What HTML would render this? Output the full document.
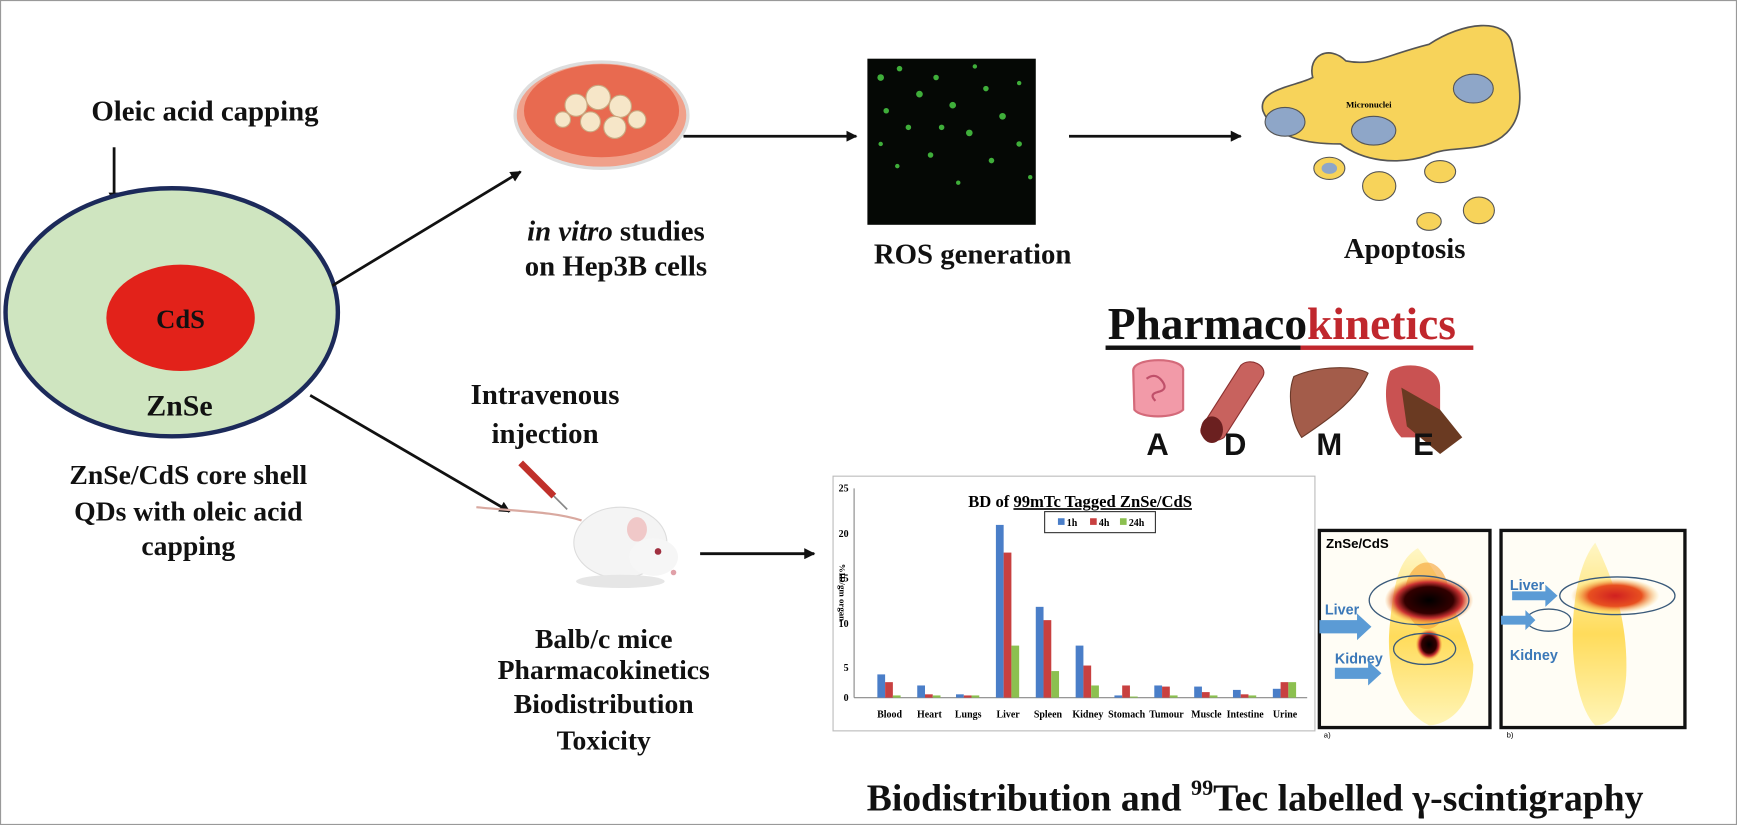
<!DOCTYPE html>
<html><head><meta charset="utf-8"><style>
html,body{margin:0;padding:0;background:#fff}
svg{display:block}
.t{font-family:"Liberation Serif",serif;font-weight:bold;fill:#111}
.s{font-family:"Liberation Sans",sans-serif;font-weight:bold;fill:#111}
</style></head><body>
<svg width="1737" height="825" viewBox="0 0 1568 745" preserveAspectRatio="none" xmlns="http://www.w3.org/2000/svg">
<defs>
<marker id="ah" markerWidth="10" markerHeight="10" refX="9" refY="5" orient="auto" markerUnits="userSpaceOnUse"><path d="M0,0 L10,5 L0,10 z" fill="#111"/></marker>
<radialGradient id="hot1" cx="50%" cy="50%" r="50%"><stop offset="0" stop-color="#000"/><stop offset="0.55" stop-color="#300"/><stop offset="0.75" stop-color="#c33"/><stop offset="1" stop-color="#f5a030" stop-opacity="0"/></radialGradient>
<radialGradient id="hot2" cx="50%" cy="50%" r="50%"><stop offset="0" stop-color="#d02020"/><stop offset="0.6" stop-color="#e85020"/><stop offset="1" stop-color="#f5c040" stop-opacity="0"/></radialGradient>
<linearGradient id="body" x1="0" y1="0" x2="0" y2="1"><stop offset="0" stop-color="#fff6c0"/><stop offset="0.5" stop-color="#ffd84a"/><stop offset="1" stop-color="#fff4b0"/></linearGradient>
</defs>
<rect x="0.5" y="0.5" width="1567" height="744" fill="#fff" stroke="#999"/>

<!-- left core-shell -->
<text class="t" x="185" y="109" font-size="26" text-anchor="middle">Oleic acid capping</text>
<line x1="103" y1="133" x2="103" y2="183" stroke="#111" stroke-width="2.5" marker-end="url(#ah)"/>
<ellipse cx="155" cy="282" rx="150" ry="112" fill="#cfe5c0" stroke="#1c2a5a" stroke-width="4"/>
<ellipse cx="163" cy="287" rx="67" ry="48" fill="#e2221a"/>
<text class="t" x="163" y="296" font-size="24" text-anchor="middle">CdS</text>
<text class="t" x="162" y="375" font-size="27" text-anchor="middle">ZnSe</text>
<text class="t" x="170" y="437" font-size="25" text-anchor="middle">ZnSe/CdS core shell</text>
<text class="t" x="170" y="470" font-size="25" text-anchor="middle">QDs with oleic acid</text>
<text class="t" x="170" y="501" font-size="25" text-anchor="middle">capping</text>

<!-- arrows -->
<line x1="300" y1="258" x2="470" y2="155" stroke="#111" stroke-width="2.5" marker-end="url(#ah)"/>
<line x1="280" y1="357" x2="460" y2="462" stroke="#111" stroke-width="2.5" marker-end="url(#ah)"/>
<line x1="617" y1="123" x2="773" y2="123" stroke="#111" stroke-width="2.5" marker-end="url(#ah)"/>
<line x1="965" y1="123" x2="1120" y2="123" stroke="#111" stroke-width="2.5" marker-end="url(#ah)"/>
<line x1="632" y1="500" x2="735" y2="500" stroke="#111" stroke-width="2.5" marker-end="url(#ah)"/>

<!-- petri dish -->
<ellipse cx="543" cy="104" rx="78" ry="48" fill="#f0a08a" stroke="#ddd" stroke-width="3"/>
<ellipse cx="543" cy="100" rx="70" ry="42" fill="#e86a50"/>
<g fill="#f6e6c8" stroke="#c9a880">
<circle cx="520" cy="95" r="10"/><circle cx="540" cy="88" r="11"/><circle cx="560" cy="96" r="10"/><circle cx="533" cy="110" r="9"/><circle cx="555" cy="115" r="10"/><circle cx="575" cy="108" r="8"/><circle cx="508" cy="108" r="7"/>
</g>
<text class="t" x="556" y="217" font-size="26" text-anchor="middle"><tspan font-style="italic">in vitro</tspan> studies</text>
<text class="t" x="556" y="249" font-size="26" text-anchor="middle">on Hep3B cells</text>

<!-- ROS -->
<rect x="783" y="53" width="152" height="150" fill="#050805"/>
<g fill="#3fae3a">
<circle cx="795" cy="70" r="3"/><circle cx="812" cy="62" r="2.5"/><circle cx="830" cy="85" r="3"/><circle cx="800" cy="100" r="2.5"/><circle cx="845" cy="70" r="2.5"/><circle cx="860" cy="95" r="3"/><circle cx="820" cy="115" r="2.5"/><circle cx="875" cy="120" r="3"/><circle cx="890" cy="80" r="2.5"/><circle cx="905" cy="105" r="3"/><circle cx="840" cy="140" r="2.5"/><circle cx="810" cy="150" r="2"/><circle cx="895" cy="145" r="2.5"/><circle cx="920" cy="130" r="2.5"/><circle cx="865" cy="165" r="2"/><circle cx="920" cy="75" r="2"/><circle cx="850" cy="115" r="2.5"/><circle cx="880" cy="60" r="2"/><circle cx="795" cy="130" r="2"/><circle cx="930" cy="160" r="2"/>
</g>
<text class="t" x="878" y="238" font-size="26" text-anchor="middle">ROS generation</text>

<!-- apoptosis -->
<path d="M1140,100 C1135,80 1170,78 1185,70 C1180,50 1200,40 1215,55 C1240,60 1250,50 1290,40 C1320,20 1360,15 1365,40 C1370,70 1380,100 1360,120 C1340,140 1310,130 1290,140 C1260,150 1230,145 1210,130 C1180,130 1150,125 1140,100 z" fill="#f7d35a" stroke="#555" stroke-width="1.5"/>
<ellipse cx="1160" cy="110" rx="18" ry="13" fill="#8ea6c8" stroke="#555"/>
<ellipse cx="1240" cy="118" rx="20" ry="13" fill="#8ea6c8" stroke="#555"/>
<ellipse cx="1330" cy="80" rx="18" ry="13" fill="#8ea6c8" stroke="#555"/>
<text x="1215" y="97" font-family="Liberation Serif,serif" font-size="8" font-weight="bold">Micronuclei</text>
<ellipse cx="1200" cy="152" rx="14" ry="10" fill="#f7d35a" stroke="#555"/><ellipse cx="1200" cy="152" rx="7" ry="5" fill="#8ea6c8"/>
<ellipse cx="1245" cy="168" rx="15" ry="13" fill="#f7d35a" stroke="#555"/>
<ellipse cx="1300" cy="155" rx="14" ry="10" fill="#f7d35a" stroke="#555"/>
<ellipse cx="1335" cy="190" rx="14" ry="12" fill="#f7d35a" stroke="#555"/>
<ellipse cx="1290" cy="200" rx="11" ry="8" fill="#f7d35a" stroke="#555"/>
<text class="t" x="1268" y="233" font-size="26" text-anchor="middle">Apoptosis</text>

<!-- Pharmacokinetics -->
<text class="t" x="1000" y="306" font-size="41"><tspan>Pharmaco</tspan><tspan fill="#c0272d">kinetics</tspan></text>
<rect x="998" y="312" width="176" height="4" fill="#111"/>
<rect x="1174" y="312" width="156" height="4" fill="#c0272d"/>
<path d="M1023,335 C1022,322 1070,322 1068,335 L1068,370 C1060,378 1030,378 1024,370 z" fill="#f29aa8" stroke="#d46a7a" stroke-width="2"/>
<path d="M1035,342 q8,-6 14,2 q6,8 -4,10 q-8,2 -2,8" stroke="#c0506a" stroke-width="2" fill="none"/>
<path d="M1085,385 L1120,330 C1128,322 1145,330 1140,340 L1105,395 C1095,402 1080,395 1085,385 z" fill="#c8625e" stroke="#8b3030"/>
<ellipse cx="1094" cy="388" rx="10" ry="12" fill="#6b2020"/>
<path d="M1168,340 C1190,330 1225,330 1235,337 C1225,360 1205,375 1175,395 C1165,380 1162,355 1168,340 z" fill="#a35c4a" stroke="#6b3a2a"/>
<path d="M1255,335 C1270,325 1300,330 1300,350 L1300,395 L1265,395 C1250,380 1248,350 1255,335 z" fill="#c95252"/>
<path d="M1265,350 L1300,370 L1320,395 L1300,410 L1270,385 z" fill="#6a3a22"/>
<text class="s" x="1045" y="411" font-size="28" text-anchor="middle">A</text>
<text class="s" x="1115" y="411" font-size="28" text-anchor="middle">D</text>
<text class="s" x="1200" y="411" font-size="28" text-anchor="middle">M</text>
<text class="s" x="1285" y="411" font-size="28" text-anchor="middle">E</text>

<!-- injection & mouse -->
<text class="t" x="492" y="365" font-size="26" text-anchor="middle">Intravenous</text>
<text class="t" x="492" y="400" font-size="26" text-anchor="middle">injection</text>
<line x1="470" y1="418" x2="500" y2="448" stroke="#c0302a" stroke-width="6"/>
<line x1="500" y1="448" x2="512" y2="460" stroke="#888" stroke-width="1.5"/>
<path d="M430,458 C470,462 500,462 525,470" stroke="#d9a9a0" stroke-width="2" fill="none"/>
<ellipse cx="560" cy="490" rx="42" ry="32" fill="#f4f4f4" stroke="#ddd"/>
<ellipse cx="590" cy="503" rx="22" ry="17" fill="#f6f6f6"/>
<ellipse cx="575" cy="478" rx="9" ry="11" fill="#f0c8c8"/>
<circle cx="594" cy="498" r="3" fill="#a03040"/>
<circle cx="608" cy="517" r="2.5" fill="#e0a0a8"/>
<ellipse cx="560" cy="525" rx="40" ry="6" fill="#e6e6e6"/>
<text class="t" x="545" y="585" font-size="25" text-anchor="middle">Balb/c mice</text>
<text class="t" x="545" y="613" font-size="25" text-anchor="middle">Pharmacokinetics</text>
<text class="t" x="545" y="644" font-size="25" text-anchor="middle">Biodistribution</text>
<text class="t" x="545" y="677" font-size="25" text-anchor="middle">Toxicity</text>

<!-- chart -->
<rect x="752" y="430" width="435" height="230" fill="#fff" stroke="#bbb"/>
<text x="975" y="458" font-family="Liberation Serif,serif" font-size="15" font-weight="bold" text-anchor="middle">BD of <tspan text-decoration="underline">99mTc Tagged ZnSe/CdS</tspan></text>
<rect x="943" y="462" width="100" height="19" fill="#fff" stroke="#333"/>
<g font-family="Liberation Serif,serif" font-size="9" font-weight="bold">
<rect x="955" y="468" width="6" height="6" fill="#4a7ec8"/><text x="963" y="475">1h</text>
<rect x="984" y="468" width="6" height="6" fill="#c84040"/><text x="992" y="475">4h</text>
<rect x="1011" y="468" width="6" height="6" fill="#8cc050"/><text x="1019" y="475">24h</text>
</g>
<line x1="771" y1="441" x2="771" y2="630" stroke="#888"/>
<line x1="771" y1="630" x2="1180" y2="630" stroke="#888"/>
<g font-family="Liberation Serif,serif" font-size="9" font-weight="bold" text-anchor="end">
<text x="766" y="444">25</text><text x="766" y="485">20</text><text x="766" y="525">15</text><text x="766" y="566">10</text><text x="766" y="606">5</text><text x="766" y="633">0</text>
</g>
<text x="0" y="0" transform="translate(758,535) rotate(90)" font-family="Liberation Serif,serif" font-size="8" font-weight="bold" text-anchor="middle">%ID/gm organ</text>
<g fill="#4a7ec8">
<rect x="792" y="609" width="7" height="21"/><rect x="828" y="619" width="7" height="11"/><rect x="863" y="627" width="7" height="3"/><rect x="899" y="474" width="7" height="156"/><rect x="935" y="548" width="7" height="82"/><rect x="971" y="583" width="7" height="47"/><rect x="1006" y="628" width="7" height="2"/><rect x="1042" y="619" width="7" height="11"/><rect x="1078" y="620" width="7" height="10"/><rect x="1113" y="623" width="7" height="7"/><rect x="1149" y="622" width="7" height="8"/>
</g>
<g fill="#c84040">
<rect x="799" y="616" width="7" height="14"/><rect x="835" y="627" width="7" height="3"/><rect x="870" y="628" width="7" height="2"/><rect x="906" y="499" width="7" height="131"/><rect x="942" y="560" width="7" height="70"/><rect x="978" y="601" width="7" height="29"/><rect x="1013" y="619" width="7" height="11"/><rect x="1049" y="620" width="7" height="10"/><rect x="1085" y="625" width="7" height="5"/><rect x="1120" y="627" width="7" height="3"/><rect x="1156" y="616" width="7" height="14"/>
</g>
<g fill="#8cc050">
<rect x="806" y="628" width="7" height="2"/><rect x="842" y="628" width="7" height="2"/><rect x="877" y="628" width="7" height="2"/><rect x="913" y="583" width="7" height="47"/><rect x="949" y="606" width="7" height="24"/><rect x="985" y="619" width="7" height="11"/><rect x="1020" y="629" width="7" height="1"/><rect x="1056" y="628" width="7" height="2"/><rect x="1092" y="628" width="7" height="2"/><rect x="1127" y="628" width="7" height="2"/><rect x="1163" y="616" width="7" height="14"/>
</g>
<g font-family="Liberation Serif,serif" font-size="9" font-weight="bold" text-anchor="middle">
<text x="803" y="648">Blood</text><text x="839" y="648">Heart</text><text x="874" y="648">Lungs</text><text x="910" y="648">Liver</text><text x="946" y="648">Spleen</text><text x="982" y="648">Kidney</text><text x="1017" y="648">Stomach</text><text x="1053" y="648">Tumour</text><text x="1089" y="648">Muscle</text><text x="1124" y="648">Intestine</text><text x="1160" y="648">Urine</text>
</g>

<!-- scintigraphy a -->
<rect x="1191" y="479" width="154" height="178" fill="#fffdf5" stroke="#111" stroke-width="3"/>
<path d="M1280,495 C1300,520 1320,560 1330,600 C1330,640 1305,655 1290,655 C1260,640 1250,600 1255,560 C1258,530 1262,505 1280,495 z" fill="url(#body)" opacity="0.9"/>
<ellipse cx="1288" cy="538" rx="20" ry="30" fill="#f5a030" opacity="0.6"/>
<ellipse cx="1290" cy="542" rx="40" ry="22" fill="url(#hot1)"/>
<ellipse cx="1290" cy="582" rx="12" ry="14" fill="url(#hot1)"/>
<ellipse cx="1281" cy="542" rx="45" ry="22" fill="none" stroke="#3a5a7a" stroke-width="1.2"/>
<ellipse cx="1286" cy="586" rx="28" ry="14" fill="none" stroke="#3a5a7a" stroke-width="1.2"/>
<text x="1197" y="495" font-family="Liberation Sans,sans-serif" font-size="12" font-weight="bold">ZnSe/CdS</text>
<text x="1196" y="555" font-family="Liberation Sans,sans-serif" font-size="13" font-weight="bold" fill="#3b78b8">Liver</text>
<path d="M1191,560 L1225,560 L1225,554 L1238,566 L1225,578 L1225,572 L1191,572 z" fill="#5b9bd5"/>
<text x="1205" y="599" font-family="Liberation Sans,sans-serif" font-size="13" font-weight="bold" fill="#3b78b8">Kidney</text>
<path d="M1205,603 L1235,603 L1235,597 L1247,608 L1235,619 L1235,613 L1205,613 z" fill="#5b9bd5"/>
<text x="1195" y="666" font-family="Liberation Sans,sans-serif" font-size="7">a)</text>

<!-- scintigraphy b -->
<rect x="1355" y="479" width="166" height="178" fill="#fffdf5" stroke="#111" stroke-width="3"/>
<path d="M1440,490 C1455,520 1470,560 1468,610 C1465,650 1450,655 1440,655 C1425,640 1418,600 1420,560 C1422,530 1428,505 1440,490 z" fill="url(#body)" opacity="0.9"/>
<ellipse cx="1458" cy="538" rx="40" ry="16" fill="url(#hot2)"/>
<ellipse cx="1460" cy="538" rx="52" ry="17" fill="none" stroke="#3a5a7a" stroke-width="1.2"/>
<ellipse cx="1398" cy="560" rx="20" ry="10" fill="none" stroke="#3a5a7a" stroke-width="1.2"/>
<text x="1363" y="533" font-family="Liberation Sans,sans-serif" font-size="13" font-weight="bold" fill="#3b78b8">Liver</text>
<path d="M1365,534 L1395,534 L1395,528 L1406,538 L1395,548 L1395,542 L1365,542 z" fill="#5b9bd5"/>
<path d="M1355,556 L1377,556 L1377,551 L1386,560 L1377,569 L1377,564 L1355,564 z" fill="#5b9bd5"/>
<text x="1363" y="596" font-family="Liberation Sans,sans-serif" font-size="13" font-weight="bold" fill="#3b78b8">Kidney</text>
<text x="1360" y="666" font-family="Liberation Sans,sans-serif" font-size="7">b)</text>

<text class="t" x="1133" y="732" font-size="34" text-anchor="middle">Biodistribution and <tspan dy="-14" font-size="20">99</tspan><tspan dy="14">Tec labelled γ-scintigraphy</tspan></text>
</svg>
</body></html>
